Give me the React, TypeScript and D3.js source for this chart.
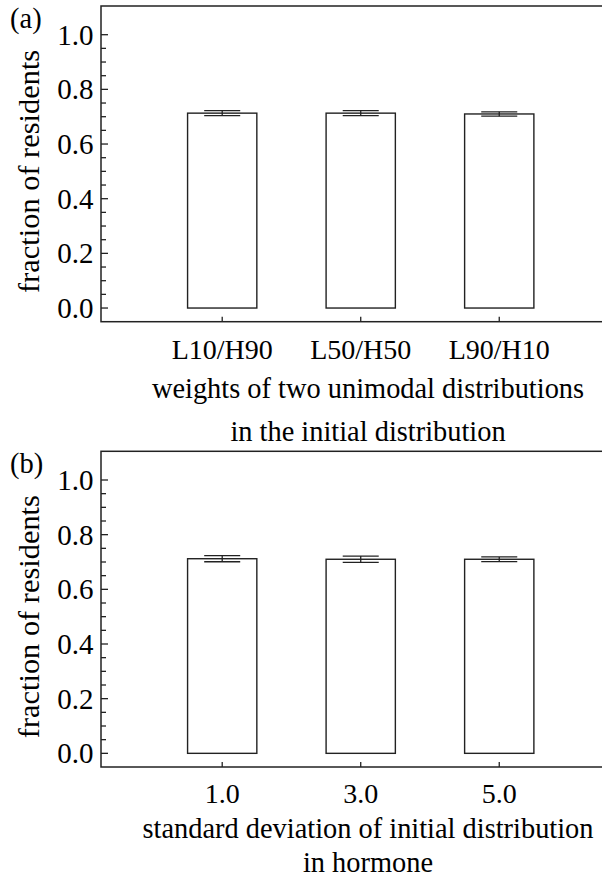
import React from "react";
import * as d3 from "d3";

// Panel (a): weights of the two unimodal components
const panelACategories = ["L10/H90", "L50/H50", "L90/H10"];
const panelAMeans = [0.713, 0.713, 0.71];
const panelAErrors = [0.009, 0.009, 0.008];

// Panel (b): standard deviation of the initial hormone distribution
const panelBCategories = ["1.0", "3.0", "5.0"];
const panelBMeans = [0.712, 0.71, 0.71];
const panelBErrors = [0.011, 0.0117, 0.0086];

const yMajorTicks = [0, 0.2, 0.4, 0.6, 0.8, 1.0];
const yMinorTicks = d3.range(0, 1.0001, 0.05).filter(
  (v) => !yMajorTicks.some((m) => Math.abs(m - v) < 1e-6)
);

const FONT = "'Liberation Serif', 'Times New Roman', serif";
const INK = "#222";

type PanelProps = {
  offsetY: number;
  tag: string;
  categories: string[];
  means: number[];
  errors: number[];
  tickLabelY: number;
  titleLines: { text: string; y: number }[];
};

function Panel({ offsetY, tag, categories, means, errors, tickLabelY, titleLines }: PanelProps) {
  const left = 101;
  const right = 635;
  const top = offsetY + 6;
  const bottom = offsetY + 321.7;

  const x = d3.scaleLinear().domain([0.125, 3.98]).range([left, right]);
  const y = d3.scaleLinear().domain([-0.05, 1.105]).range([bottom, top]);

  const barHalf = 0.25;
  const capHalf = 0.13;
  const centerX = (left + right) / 2;

  return (
    <g>
      {/* bars */}
      {means.map((m, i) => {
        const pos = i + 1;
        return (
          <rect
            key={"bar" + i}
            x={x(pos - barHalf)}
            y={y(m)}
            width={x(pos + barHalf) - x(pos - barHalf)}
            height={y(0) - y(m)}
            fill="#fff"
            stroke={INK}
            strokeWidth={1.4}
          />
        );
      })}
      {/* error bars */}
      {means.map((m, i) => {
        const pos = i + 1;
        const hi = y(m + errors[i]);
        const lo = y(m - errors[i]);
        return (
          <g key={"err" + i} stroke={INK} strokeWidth={1.3}>
            <line x1={x(pos - capHalf)} x2={x(pos + capHalf)} y1={hi} y2={hi} />
            <line x1={x(pos - capHalf)} x2={x(pos + capHalf)} y1={lo} y2={lo} />
            <line x1={x(pos)} x2={x(pos)} y1={hi} y2={lo} />
          </g>
        );
      })}
      {/* frame */}
      <rect x={left} y={top} width={right - left} height={bottom - top} fill="none" stroke={INK} strokeWidth={1.5} />
      {/* y ticks */}
      {yMajorTicks.map((t) => (
        <g key={"yt" + t}>
          <line x1={left} x2={left + 7} y1={y(t)} y2={y(t)} stroke={INK} strokeWidth={1.3} />
          <text x={93.5} y={y(t) + 10} textAnchor="end" fontFamily={FONT} fontSize={29} fill="#000">
            {d3.format(".1f")(t)}
          </text>
        </g>
      ))}
      {yMinorTicks.map((t) => (
        <line key={"ym" + t} x1={left} x2={left + 5} y1={y(t)} y2={y(t)} stroke={INK} strokeWidth={1.3} />
      ))}
      {/* x ticks and labels */}
      {categories.map((c, i) => (
        <g key={"xt" + i}>
          <line x1={x(i + 1)} x2={x(i + 1)} y1={bottom} y2={bottom - 5} stroke={INK} strokeWidth={1.3} />
          <text x={x(i + 1)} y={tickLabelY} textAnchor="middle" fontFamily={FONT} fontSize={28} fill="#000">
            {c}
          </text>
        </g>
      ))}
      {/* x axis title */}
      {titleLines.map((l, i) => (
        <text key={"tl" + i} x={centerX} y={l.y} textAnchor="middle" fontFamily={FONT} fontSize={28.4} fill="#000">
          {l.text}
        </text>
      ))}
      {/* y axis title */}
      <text
        transform={`translate(39, ${y(0.5)}) rotate(-90)`}
        textAnchor="middle"
        fontFamily={FONT}
        fontSize={30.4}
        fill="#000"
      >
        fraction of residents
      </text>
      {/* panel tag */}
      <text x={10} y={offsetY + 28} fontFamily={FONT} fontSize={28.5} fill="#000">
        {tag}
      </text>
    </g>
  );
}

export default function App() {
  return (
    <svg
      width={602}
      height={879}
      viewBox="0 0 602 879"
      style={{ position: "absolute", left: 0, top: 0, background: "#fff" }}
    >
      <rect width={602} height={879} fill="#fff" />
      <Panel
        offsetY={0}
        tag="(a)"
        categories={panelACategories}
        means={panelAMeans}
        errors={panelAErrors}
        tickLabelY={359}
        titleLines={[
          { text: "weights of two unimodal distributions", y: 398 },
          { text: "in the initial distribution", y: 441 },
        ]}
      />
      <Panel
        offsetY={445.3}
        tag="(b)"
        categories={panelBCategories}
        means={panelBMeans}
        errors={panelBErrors}
        tickLabelY={803}
        titleLines={[
          { text: "standard deviation of initial distribution", y: 838 },
          { text: "in hormone", y: 872 },
        ]}
      />
    </svg>
  );
}
